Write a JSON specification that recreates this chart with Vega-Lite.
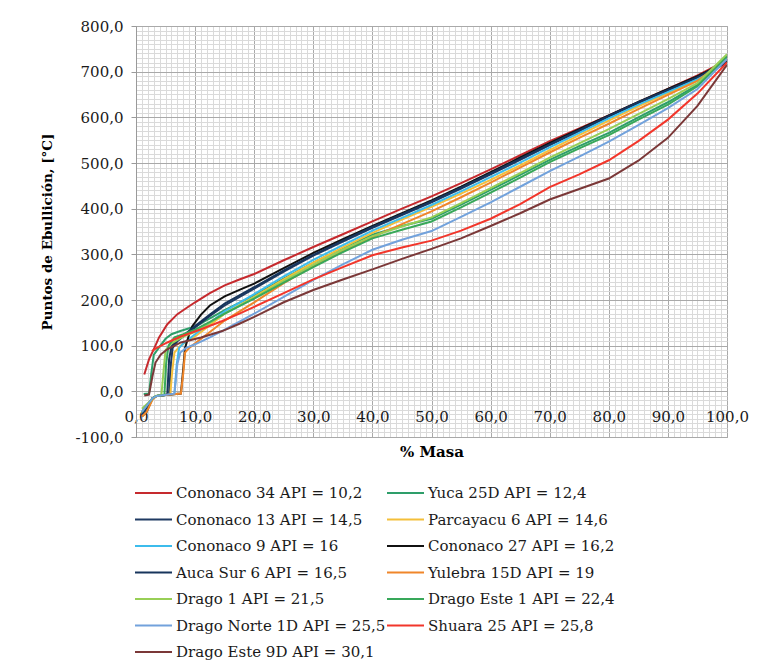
{
"$schema": "https://vega.github.io/schema/vega-lite/v6.json",
"width": 591, "height": 411,
"autosize": {"type": "none"},
"padding": {"left": 136, "top": 26, "right": 33, "bottom": 227},
"background": "white",
"config": {"view": {"stroke": "#A8A8A8", "strokeWidth": 1}, "font": "DejaVu Serif"},
"datasets": {"d": [
{"s":"Cononaco 34 API = 10,2","x":1.4,"y":37},{"s":"Cononaco 34 API = 10,2","x":2.2,"y":70},{"s":"Cononaco 34 API = 10,2","x":3,"y":92},{"s":"Cononaco 34 API = 10,2","x":3.9,"y":118},{"s":"Cononaco 34 API = 10,2","x":5.3,"y":147},{"s":"Cononaco 34 API = 10,2","x":7,"y":169},{"s":"Cononaco 34 API = 10,2","x":8.6,"y":183},{"s":"Cononaco 34 API = 10,2","x":10,"y":195},{"s":"Cononaco 34 API = 10,2","x":12.5,"y":215},{"s":"Cononaco 34 API = 10,2","x":15,"y":232},{"s":"Cononaco 34 API = 10,2","x":17.5,"y":245},{"s":"Cononaco 34 API = 10,2","x":20,"y":257},{"s":"Cononaco 34 API = 10,2","x":25,"y":287},{"s":"Cononaco 34 API = 10,2","x":30,"y":316},{"s":"Cononaco 34 API = 10,2","x":35,"y":344},{"s":"Cononaco 34 API = 10,2","x":40,"y":372},{"s":"Cononaco 34 API = 10,2","x":45,"y":400},{"s":"Cononaco 34 API = 10,2","x":50,"y":427},{"s":"Cononaco 34 API = 10,2","x":55,"y":456},{"s":"Cononaco 34 API = 10,2","x":60,"y":486},{"s":"Cononaco 34 API = 10,2","x":65,"y":517},{"s":"Cononaco 34 API = 10,2","x":70,"y":548},{"s":"Cononaco 34 API = 10,2","x":75,"y":576},{"s":"Cononaco 34 API = 10,2","x":80,"y":604},{"s":"Cononaco 34 API = 10,2","x":85,"y":633},{"s":"Cononaco 34 API = 10,2","x":90,"y":662},{"s":"Cononaco 34 API = 10,2","x":95,"y":692},{"s":"Cononaco 34 API = 10,2","x":100,"y":725},

{"s":"Yuca 25D API = 12,4","x":1.3,"y":-6},{"s":"Yuca 25D API = 12,4","x":2.2,"y":-5},{"s":"Yuca 25D API = 12,4","x":2.6,"y":40},{"s":"Yuca 25D API = 12,4","x":3,"y":80},{"s":"Yuca 25D API = 12,4","x":4,"y":98},{"s":"Yuca 25D API = 12,4","x":5,"y":115},{"s":"Yuca 25D API = 12,4","x":6,"y":125},{"s":"Yuca 25D API = 12,4","x":7.5,"y":132},{"s":"Yuca 25D API = 12,4","x":10,"y":142},{"s":"Yuca 25D API = 12,4","x":12.5,"y":160},{"s":"Yuca 25D API = 12,4","x":15,"y":178},{"s":"Yuca 25D API = 12,4","x":20,"y":210},{"s":"Yuca 25D API = 12,4","x":25,"y":247},{"s":"Yuca 25D API = 12,4","x":30,"y":282},{"s":"Yuca 25D API = 12,4","x":35,"y":314},{"s":"Yuca 25D API = 12,4","x":40,"y":343},{"s":"Yuca 25D API = 12,4","x":45,"y":362},{"s":"Yuca 25D API = 12,4","x":50,"y":378},{"s":"Yuca 25D API = 12,4","x":55,"y":409},{"s":"Yuca 25D API = 12,4","x":60,"y":441},{"s":"Yuca 25D API = 12,4","x":65,"y":474},{"s":"Yuca 25D API = 12,4","x":70,"y":507},{"s":"Yuca 25D API = 12,4","x":75,"y":537},{"s":"Yuca 25D API = 12,4","x":80,"y":566},{"s":"Yuca 25D API = 12,4","x":85,"y":600},{"s":"Yuca 25D API = 12,4","x":90,"y":633},{"s":"Yuca 25D API = 12,4","x":95,"y":671},{"s":"Yuca 25D API = 12,4","x":100,"y":734},

{"s":"Cononaco 13 API = 14,5","x":1,"y":-50},{"s":"Cononaco 13 API = 14,5","x":2.8,"y":-15},{"s":"Cononaco 13 API = 14,5","x":3.5,"y":-10},{"s":"Cononaco 13 API = 14,5","x":5.6,"y":-7},{"s":"Cononaco 13 API = 14,5","x":5.9,"y":60},{"s":"Cononaco 13 API = 14,5","x":6.2,"y":95},{"s":"Cononaco 13 API = 14,5","x":7,"y":110},{"s":"Cononaco 13 API = 14,5","x":8,"y":120},{"s":"Cononaco 13 API = 14,5","x":10,"y":140},{"s":"Cononaco 13 API = 14,5","x":12.5,"y":165},{"s":"Cononaco 13 API = 14,5","x":15,"y":188},{"s":"Cononaco 13 API = 14,5","x":20,"y":225},{"s":"Cononaco 13 API = 14,5","x":25,"y":262},{"s":"Cononaco 13 API = 14,5","x":30,"y":297},{"s":"Cononaco 13 API = 14,5","x":35,"y":328},{"s":"Cononaco 13 API = 14,5","x":40,"y":358},{"s":"Cononaco 13 API = 14,5","x":45,"y":386},{"s":"Cononaco 13 API = 14,5","x":50,"y":414},{"s":"Cononaco 13 API = 14,5","x":55,"y":444},{"s":"Cononaco 13 API = 14,5","x":60,"y":475},{"s":"Cononaco 13 API = 14,5","x":65,"y":507},{"s":"Cononaco 13 API = 14,5","x":70,"y":539},{"s":"Cononaco 13 API = 14,5","x":75,"y":570},{"s":"Cononaco 13 API = 14,5","x":80,"y":601},{"s":"Cononaco 13 API = 14,5","x":85,"y":631},{"s":"Cononaco 13 API = 14,5","x":90,"y":658},{"s":"Cononaco 13 API = 14,5","x":95,"y":686},{"s":"Cononaco 13 API = 14,5","x":100,"y":720},

{"s":"Parcayacu 6 API = 14,6","x":1,"y":-48},{"s":"Parcayacu 6 API = 14,6","x":2.8,"y":-15},{"s":"Parcayacu 6 API = 14,6","x":3.5,"y":-10},{"s":"Parcayacu 6 API = 14,6","x":5.8,"y":-6},{"s":"Parcayacu 6 API = 14,6","x":6.1,"y":40},{"s":"Parcayacu 6 API = 14,6","x":6.5,"y":85},{"s":"Parcayacu 6 API = 14,6","x":7.5,"y":100},{"s":"Parcayacu 6 API = 14,6","x":10,"y":120},{"s":"Parcayacu 6 API = 14,6","x":12.5,"y":145},{"s":"Parcayacu 6 API = 14,6","x":15,"y":170},{"s":"Parcayacu 6 API = 14,6","x":20,"y":207},{"s":"Parcayacu 6 API = 14,6","x":25,"y":245},{"s":"Parcayacu 6 API = 14,6","x":30,"y":282},{"s":"Parcayacu 6 API = 14,6","x":35,"y":315},{"s":"Parcayacu 6 API = 14,6","x":40,"y":347},{"s":"Parcayacu 6 API = 14,6","x":45,"y":376},{"s":"Parcayacu 6 API = 14,6","x":50,"y":404},{"s":"Parcayacu 6 API = 14,6","x":55,"y":433},{"s":"Parcayacu 6 API = 14,6","x":60,"y":463},{"s":"Parcayacu 6 API = 14,6","x":65,"y":495},{"s":"Parcayacu 6 API = 14,6","x":70,"y":528},{"s":"Parcayacu 6 API = 14,6","x":75,"y":561},{"s":"Parcayacu 6 API = 14,6","x":80,"y":593},{"s":"Parcayacu 6 API = 14,6","x":85,"y":624},{"s":"Parcayacu 6 API = 14,6","x":90,"y":653},{"s":"Parcayacu 6 API = 14,6","x":95,"y":682},{"s":"Parcayacu 6 API = 14,6","x":100,"y":726},

{"s":"Cononaco 9 API = 16","x":1,"y":-50},{"s":"Cononaco 9 API = 16","x":2.8,"y":-15},{"s":"Cononaco 9 API = 16","x":3.5,"y":-10},{"s":"Cononaco 9 API = 16","x":6.5,"y":-6},{"s":"Cononaco 9 API = 16","x":6.9,"y":60},{"s":"Cononaco 9 API = 16","x":7.3,"y":95},{"s":"Cononaco 9 API = 16","x":8,"y":105},{"s":"Cononaco 9 API = 16","x":10,"y":125},{"s":"Cononaco 9 API = 16","x":12.5,"y":150},{"s":"Cononaco 9 API = 16","x":15,"y":175},{"s":"Cononaco 9 API = 16","x":20,"y":213},{"s":"Cononaco 9 API = 16","x":25,"y":252},{"s":"Cononaco 9 API = 16","x":30,"y":288},{"s":"Cononaco 9 API = 16","x":35,"y":320},{"s":"Cononaco 9 API = 16","x":40,"y":352},{"s":"Cononaco 9 API = 16","x":45,"y":380},{"s":"Cononaco 9 API = 16","x":50,"y":408},{"s":"Cononaco 9 API = 16","x":55,"y":438},{"s":"Cononaco 9 API = 16","x":60,"y":469},{"s":"Cononaco 9 API = 16","x":65,"y":501},{"s":"Cononaco 9 API = 16","x":70,"y":534},{"s":"Cononaco 9 API = 16","x":75,"y":566},{"s":"Cononaco 9 API = 16","x":80,"y":598},{"s":"Cononaco 9 API = 16","x":85,"y":628},{"s":"Cononaco 9 API = 16","x":90,"y":656},{"s":"Cononaco 9 API = 16","x":95,"y":684},{"s":"Cononaco 9 API = 16","x":100,"y":724},

{"s":"Cononaco 27 API = 16,2","x":1,"y":-55},{"s":"Cononaco 27 API = 16,2","x":1.8,"y":-45},{"s":"Cononaco 27 API = 16,2","x":2.8,"y":-15},{"s":"Cononaco 27 API = 16,2","x":3.5,"y":-10},{"s":"Cononaco 27 API = 16,2","x":5,"y":-8},{"s":"Cononaco 27 API = 16,2","x":7.6,"y":-5},{"s":"Cononaco 27 API = 16,2","x":8,"y":50},{"s":"Cononaco 27 API = 16,2","x":8.3,"y":95},{"s":"Cononaco 27 API = 16,2","x":9,"y":125},{"s":"Cononaco 27 API = 16,2","x":9.5,"y":142},{"s":"Cononaco 27 API = 16,2","x":11,"y":168},{"s":"Cononaco 27 API = 16,2","x":12.5,"y":188},{"s":"Cononaco 27 API = 16,2","x":15,"y":208},{"s":"Cononaco 27 API = 16,2","x":17.5,"y":222},{"s":"Cononaco 27 API = 16,2","x":20,"y":236},{"s":"Cononaco 27 API = 16,2","x":25,"y":270},{"s":"Cononaco 27 API = 16,2","x":30,"y":303},{"s":"Cononaco 27 API = 16,2","x":35,"y":333},{"s":"Cononaco 27 API = 16,2","x":40,"y":362},{"s":"Cononaco 27 API = 16,2","x":45,"y":390},{"s":"Cononaco 27 API = 16,2","x":50,"y":418},{"s":"Cononaco 27 API = 16,2","x":55,"y":448},{"s":"Cononaco 27 API = 16,2","x":60,"y":480},{"s":"Cononaco 27 API = 16,2","x":65,"y":512},{"s":"Cononaco 27 API = 16,2","x":70,"y":544},{"s":"Cononaco 27 API = 16,2","x":75,"y":574},{"s":"Cononaco 27 API = 16,2","x":80,"y":604},{"s":"Cononaco 27 API = 16,2","x":85,"y":634},{"s":"Cononaco 27 API = 16,2","x":90,"y":662},{"s":"Cononaco 27 API = 16,2","x":95,"y":690},{"s":"Cononaco 27 API = 16,2","x":100,"y":722},

{"s":"Auca Sur 6 API = 16,5","x":1,"y":-52},{"s":"Auca Sur 6 API = 16,5","x":2.8,"y":-15},{"s":"Auca Sur 6 API = 16,5","x":3.5,"y":-10},{"s":"Auca Sur 6 API = 16,5","x":5.3,"y":-7},{"s":"Auca Sur 6 API = 16,5","x":5.6,"y":70},{"s":"Auca Sur 6 API = 16,5","x":6,"y":98},{"s":"Auca Sur 6 API = 16,5","x":7,"y":112},{"s":"Auca Sur 6 API = 16,5","x":8,"y":122},{"s":"Auca Sur 6 API = 16,5","x":10,"y":143},{"s":"Auca Sur 6 API = 16,5","x":12.5,"y":168},{"s":"Auca Sur 6 API = 16,5","x":15,"y":192},{"s":"Auca Sur 6 API = 16,5","x":20,"y":228},{"s":"Auca Sur 6 API = 16,5","x":25,"y":265},{"s":"Auca Sur 6 API = 16,5","x":30,"y":299},{"s":"Auca Sur 6 API = 16,5","x":35,"y":330},{"s":"Auca Sur 6 API = 16,5","x":40,"y":360},{"s":"Auca Sur 6 API = 16,5","x":45,"y":388},{"s":"Auca Sur 6 API = 16,5","x":50,"y":416},{"s":"Auca Sur 6 API = 16,5","x":55,"y":446},{"s":"Auca Sur 6 API = 16,5","x":60,"y":477},{"s":"Auca Sur 6 API = 16,5","x":65,"y":509},{"s":"Auca Sur 6 API = 16,5","x":70,"y":541},{"s":"Auca Sur 6 API = 16,5","x":75,"y":572},{"s":"Auca Sur 6 API = 16,5","x":80,"y":603},{"s":"Auca Sur 6 API = 16,5","x":85,"y":633},{"s":"Auca Sur 6 API = 16,5","x":90,"y":660},{"s":"Auca Sur 6 API = 16,5","x":95,"y":688},{"s":"Auca Sur 6 API = 16,5","x":100,"y":722},

{"s":"Yulebra 15D API = 19","x":1,"y":-55},{"s":"Yulebra 15D API = 19","x":1.8,"y":-45},{"s":"Yulebra 15D API = 19","x":2.8,"y":-18},{"s":"Yulebra 15D API = 19","x":3.5,"y":-10},{"s":"Yulebra 15D API = 19","x":5,"y":-8},{"s":"Yulebra 15D API = 19","x":7.6,"y":-5},{"s":"Yulebra 15D API = 19","x":8,"y":40},{"s":"Yulebra 15D API = 19","x":8.3,"y":85},{"s":"Yulebra 15D API = 19","x":9,"y":95},{"s":"Yulebra 15D API = 19","x":10,"y":105},{"s":"Yulebra 15D API = 19","x":12.5,"y":130},{"s":"Yulebra 15D API = 19","x":15,"y":155},{"s":"Yulebra 15D API = 19","x":20,"y":195},{"s":"Yulebra 15D API = 19","x":25,"y":237},{"s":"Yulebra 15D API = 19","x":30,"y":274},{"s":"Yulebra 15D API = 19","x":35,"y":307},{"s":"Yulebra 15D API = 19","x":40,"y":338},{"s":"Yulebra 15D API = 19","x":45,"y":366},{"s":"Yulebra 15D API = 19","x":50,"y":394},{"s":"Yulebra 15D API = 19","x":55,"y":425},{"s":"Yulebra 15D API = 19","x":60,"y":457},{"s":"Yulebra 15D API = 19","x":65,"y":490},{"s":"Yulebra 15D API = 19","x":70,"y":523},{"s":"Yulebra 15D API = 19","x":75,"y":555},{"s":"Yulebra 15D API = 19","x":80,"y":586},{"s":"Yulebra 15D API = 19","x":85,"y":618},{"s":"Yulebra 15D API = 19","x":90,"y":649},{"s":"Yulebra 15D API = 19","x":95,"y":680},{"s":"Yulebra 15D API = 19","x":100,"y":728},

{"s":"Drago 1 API = 21,5","x":1,"y":-38},{"s":"Drago 1 API = 21,5","x":2.5,"y":-20},{"s":"Drago 1 API = 21,5","x":3.3,"y":-10},{"s":"Drago 1 API = 21,5","x":4.3,"y":-8},{"s":"Drago 1 API = 21,5","x":4.7,"y":50},{"s":"Drago 1 API = 21,5","x":5,"y":90},{"s":"Drago 1 API = 21,5","x":6,"y":105},{"s":"Drago 1 API = 21,5","x":8,"y":120},{"s":"Drago 1 API = 21,5","x":10,"y":130},{"s":"Drago 1 API = 21,5","x":12.5,"y":150},{"s":"Drago 1 API = 21,5","x":15,"y":170},{"s":"Drago 1 API = 21,5","x":20,"y":205},{"s":"Drago 1 API = 21,5","x":25,"y":242},{"s":"Drago 1 API = 21,5","x":30,"y":277},{"s":"Drago 1 API = 21,5","x":35,"y":310},{"s":"Drago 1 API = 21,5","x":40,"y":340},{"s":"Drago 1 API = 21,5","x":45,"y":361},{"s":"Drago 1 API = 21,5","x":50,"y":381},{"s":"Drago 1 API = 21,5","x":55,"y":412},{"s":"Drago 1 API = 21,5","x":60,"y":445},{"s":"Drago 1 API = 21,5","x":65,"y":478},{"s":"Drago 1 API = 21,5","x":70,"y":512},{"s":"Drago 1 API = 21,5","x":75,"y":543},{"s":"Drago 1 API = 21,5","x":80,"y":574},{"s":"Drago 1 API = 21,5","x":85,"y":607},{"s":"Drago 1 API = 21,5","x":90,"y":640},{"s":"Drago 1 API = 21,5","x":95,"y":675},{"s":"Drago 1 API = 21,5","x":100,"y":738},

{"s":"Drago Este 1 API = 22,4","x":1,"y":-45},{"s":"Drago Este 1 API = 22,4","x":2.8,"y":-15},{"s":"Drago Este 1 API = 22,4","x":3.5,"y":-10},{"s":"Drago Este 1 API = 22,4","x":4.8,"y":-8},{"s":"Drago Este 1 API = 22,4","x":5.1,"y":60},{"s":"Drago Este 1 API = 22,4","x":5.5,"y":100},{"s":"Drago Este 1 API = 22,4","x":6.5,"y":118},{"s":"Drago Este 1 API = 22,4","x":8,"y":125},{"s":"Drago Este 1 API = 22,4","x":10,"y":135},{"s":"Drago Este 1 API = 22,4","x":12.5,"y":152},{"s":"Drago Este 1 API = 22,4","x":15,"y":170},{"s":"Drago Este 1 API = 22,4","x":20,"y":203},{"s":"Drago Este 1 API = 22,4","x":25,"y":238},{"s":"Drago Este 1 API = 22,4","x":30,"y":272},{"s":"Drago Este 1 API = 22,4","x":35,"y":305},{"s":"Drago Este 1 API = 22,4","x":40,"y":335},{"s":"Drago Este 1 API = 22,4","x":45,"y":354},{"s":"Drago Este 1 API = 22,4","x":50,"y":372},{"s":"Drago Este 1 API = 22,4","x":55,"y":403},{"s":"Drago Este 1 API = 22,4","x":60,"y":435},{"s":"Drago Este 1 API = 22,4","x":65,"y":468},{"s":"Drago Este 1 API = 22,4","x":70,"y":502},{"s":"Drago Este 1 API = 22,4","x":75,"y":532},{"s":"Drago Este 1 API = 22,4","x":80,"y":561},{"s":"Drago Este 1 API = 22,4","x":85,"y":595},{"s":"Drago Este 1 API = 22,4","x":90,"y":628},{"s":"Drago Este 1 API = 22,4","x":95,"y":668},{"s":"Drago Este 1 API = 22,4","x":100,"y":732},

{"s":"Drago Norte 1D API = 25,5","x":1,"y":-45},{"s":"Drago Norte 1D API = 25,5","x":2.8,"y":-15},{"s":"Drago Norte 1D API = 25,5","x":3.5,"y":-10},{"s":"Drago Norte 1D API = 25,5","x":6.5,"y":-5},{"s":"Drago Norte 1D API = 25,5","x":7,"y":60},{"s":"Drago Norte 1D API = 25,5","x":7.5,"y":85},{"s":"Drago Norte 1D API = 25,5","x":8.5,"y":95},{"s":"Drago Norte 1D API = 25,5","x":10,"y":103},{"s":"Drago Norte 1D API = 25,5","x":12.5,"y":118},{"s":"Drago Norte 1D API = 25,5","x":15,"y":135},{"s":"Drago Norte 1D API = 25,5","x":20,"y":170},{"s":"Drago Norte 1D API = 25,5","x":25,"y":207},{"s":"Drago Norte 1D API = 25,5","x":30,"y":244},{"s":"Drago Norte 1D API = 25,5","x":35,"y":278},{"s":"Drago Norte 1D API = 25,5","x":40,"y":310},{"s":"Drago Norte 1D API = 25,5","x":45,"y":332},{"s":"Drago Norte 1D API = 25,5","x":50,"y":351},{"s":"Drago Norte 1D API = 25,5","x":55,"y":382},{"s":"Drago Norte 1D API = 25,5","x":60,"y":414},{"s":"Drago Norte 1D API = 25,5","x":65,"y":448},{"s":"Drago Norte 1D API = 25,5","x":70,"y":482},{"s":"Drago Norte 1D API = 25,5","x":75,"y":514},{"s":"Drago Norte 1D API = 25,5","x":80,"y":547},{"s":"Drago Norte 1D API = 25,5","x":85,"y":583},{"s":"Drago Norte 1D API = 25,5","x":90,"y":620},{"s":"Drago Norte 1D API = 25,5","x":95,"y":662},{"s":"Drago Norte 1D API = 25,5","x":100,"y":728},

{"s":"Shuara 25 API = 25,8","x":2.7,"y":88},{"s":"Shuara 25 API = 25,8","x":3.6,"y":96},{"s":"Shuara 25 API = 25,8","x":5.3,"y":107},{"s":"Shuara 25 API = 25,8","x":7.6,"y":120},{"s":"Shuara 25 API = 25,8","x":11,"y":136},{"s":"Shuara 25 API = 25,8","x":14.6,"y":154},{"s":"Shuara 25 API = 25,8","x":17.5,"y":170},{"s":"Shuara 25 API = 25,8","x":20,"y":185},{"s":"Shuara 25 API = 25,8","x":25,"y":215},{"s":"Shuara 25 API = 25,8","x":30,"y":245},{"s":"Shuara 25 API = 25,8","x":35,"y":272},{"s":"Shuara 25 API = 25,8","x":40,"y":298},{"s":"Shuara 25 API = 25,8","x":45,"y":315},{"s":"Shuara 25 API = 25,8","x":50,"y":330},{"s":"Shuara 25 API = 25,8","x":55,"y":352},{"s":"Shuara 25 API = 25,8","x":60,"y":378},{"s":"Shuara 25 API = 25,8","x":65,"y":410},{"s":"Shuara 25 API = 25,8","x":70,"y":447},{"s":"Shuara 25 API = 25,8","x":75,"y":475},{"s":"Shuara 25 API = 25,8","x":80,"y":506},{"s":"Shuara 25 API = 25,8","x":85,"y":548},{"s":"Shuara 25 API = 25,8","x":90,"y":595},{"s":"Shuara 25 API = 25,8","x":95,"y":652},{"s":"Shuara 25 API = 25,8","x":100,"y":720},

{"s":"Drago Este 9D API = 30,1","x":1.4,"y":-9},{"s":"Drago Este 9D API = 30,1","x":2.2,"y":-7},{"s":"Drago Este 9D API = 30,1","x":2.8,"y":34},{"s":"Drago Este 9D API = 30,1","x":3.3,"y":63},{"s":"Drago Este 9D API = 30,1","x":4.2,"y":81},{"s":"Drago Este 9D API = 30,1","x":5.3,"y":92},{"s":"Drago Este 9D API = 30,1","x":7.6,"y":107},{"s":"Drago Este 9D API = 30,1","x":11,"y":118},{"s":"Drago Este 9D API = 30,1","x":14.6,"y":132},{"s":"Drago Este 9D API = 30,1","x":17.5,"y":148},{"s":"Drago Este 9D API = 30,1","x":20,"y":163},{"s":"Drago Este 9D API = 30,1","x":25,"y":195},{"s":"Drago Este 9D API = 30,1","x":30,"y":222},{"s":"Drago Este 9D API = 30,1","x":35,"y":245},{"s":"Drago Este 9D API = 30,1","x":40,"y":267},{"s":"Drago Este 9D API = 30,1","x":45,"y":290},{"s":"Drago Este 9D API = 30,1","x":50,"y":312},{"s":"Drago Este 9D API = 30,1","x":55,"y":335},{"s":"Drago Este 9D API = 30,1","x":60,"y":362},{"s":"Drago Este 9D API = 30,1","x":65,"y":390},{"s":"Drago Este 9D API = 30,1","x":70,"y":420},{"s":"Drago Este 9D API = 30,1","x":75,"y":443},{"s":"Drago Este 9D API = 30,1","x":80,"y":466},{"s":"Drago Este 9D API = 30,1","x":85,"y":505},{"s":"Drago Este 9D API = 30,1","x":90,"y":555},{"s":"Drago Este 9D API = 30,1","x":95,"y":625},{"s":"Drago Este 9D API = 30,1","x":100,"y":715}
]},
"data": {"name": "d"},
"mark": {"type": "line", "strokeWidth": 2, "clip": true},
"encoding": {
"x": {"field": "x", "type": "quantitative",
 "scale": {"domain": [0, 100], "nice": false, "zero": false},
 "axis": {"values": [0,1,2,3,4,5,6,7,8,9,10,11,12,13,14,15,16,17,18,19,20,21,22,23,24,25,26,27,28,29,30,31,32,33,34,35,36,37,38,39,40,41,42,43,44,45,46,47,48,49,50,51,52,53,54,55,56,57,58,59,60,61,62,63,64,65,66,67,68,69,70,71,72,73,74,75,76,77,78,79,80,81,82,83,84,85,86,87,88,89,90,91,92,93,94,95,96,97,98,99,100],
  "grid": true,
  "gridColor": {"condition": {"test": "datum.value % 10 === 0", "value": "#A9A9A9"}, "value": "#DADADA"},
  "gridWidth": 1,
  "ticks": false, "domain": false,
  "labelExpr": "datum.value % 10 === 0 ? replace(format(datum.value, '.1f'), '.', ',') : ''",
  "labelOverlap": false, "labelFlush": false, "labelPadding": -28,
  "labelFont": "DejaVu Serif", "labelFontSize": 15, "labelColor": "#1a1a1a",
  "title": "% Masa", "titleFont": "DejaVu Serif", "titleFontSize": 15, "titleFontWeight": "bold", "titleColor": "#000",
  "titleBaseline": "alphabetic", "titleY": 19}},
"y": {"field": "y", "type": "quantitative",
 "scale": {"domain": [-100, 800], "nice": false, "zero": false},
 "axis": {"values": [-100,-90,-80,-70,-60,-50,-40,-30,-20,-10,0,10,20,30,40,50,60,70,80,90,100,110,120,130,140,150,160,170,180,190,200,210,220,230,240,250,260,270,280,290,300,310,320,330,340,350,360,370,380,390,400,410,420,430,440,450,460,470,480,490,500,510,520,530,540,550,560,570,580,590,600,610,620,630,640,650,660,670,680,690,700,710,720,730,740,750,760,770,780,790,800],
  "grid": true,
  "gridColor": {"condition": {"test": "datum.value % 100 === 0", "value": "#A9A9A9"}, "value": "#DADADA"},
  "gridWidth": 1,
  "ticks": true, "tickSize": 5,
  "tickColor": {"condition": {"test": "datum.value % 100 === 0", "value": "#9A9A9A"}, "value": "rgba(0,0,0,0)"},
  "domain": true, "domainColor": "#9A9A9A",
  "labelExpr": "datum.value % 100 === 0 ? (datum.value < 0 ? '-' : '') + replace(format(abs(datum.value), '.1f'), '.', ',') : ''",
  "labelOverlap": false, "labelFlush": false, "labelPadding": 8,
  "labelFont": "DejaVu Serif", "labelFontSize": 15, "labelColor": "#1a1a1a",
  "title": "Puntos de Ebullición, [°C]", "titleFont": "DejaVu Serif", "titleFontSize": 13.5, "titleFontWeight": "bold", "titleColor": "#000",
  "titlePadding": 20}},
"color": {"field": "s", "type": "nominal",
 "scale": {"domain": ["Cononaco 34 API = 10,2","Yuca 25D API = 12,4","Cononaco 13 API = 14,5","Parcayacu 6 API = 14,6","Cononaco 9 API = 16","Cononaco 27 API = 16,2","Auca Sur 6 API = 16,5","Yulebra 15D API = 19","Drago 1 API = 21,5","Drago Este 1 API = 22,4","Drago Norte 1D API = 25,5","Shuara 25 API = 25,8","Drago Este 9D API = 30,1"],
  "range": ["#C62A2E","#2E9E6A","#1F3A62","#F4BF3A","#3CBCEC","#111111","#17355C","#F0862A","#98CF56","#38A85A","#72A2DC","#F2362B","#7B3838"]},
 "legend": {"orient": "none", "legendX": -2, "legendY": 457, "columns": 2, "direction": "horizontal", "title": null,
  "symbolType": "stroke", "symbolSize": 1369, "symbolStrokeWidth": 2, "clipHeight": 20,
  "labelFont": "DejaVu Serif", "labelFontSize": 15, "labelColor": "#1a1a1a", "labelOffset": 3,
  "rowPadding": 6.5, "columnPadding": -2, "labelLimit": 400}}
}
}
